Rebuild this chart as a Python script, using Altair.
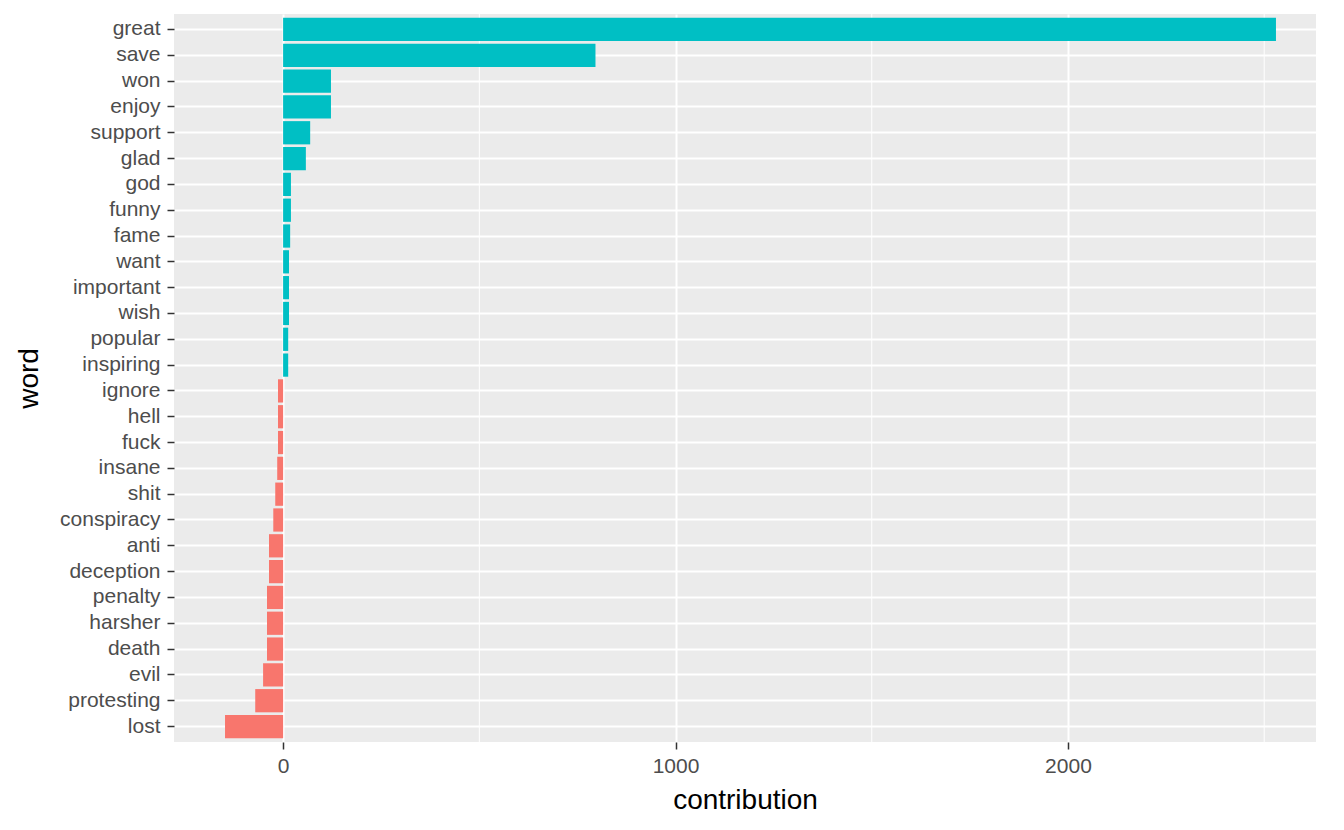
import altair as alt
import pandas as pd

words = ["great", "save", "won", "enjoy", "support", "glad", "god", "funny", "fame",
         "want", "important", "wish", "popular", "inspiring", "ignore", "hell", "fuck",
         "insane", "shit", "conspiracy", "anti", "deception", "penalty", "harsher",
         "death", "evil", "protesting", "lost"]
contribution = [2530, 796, 122, 122, 69, 58, 20, 20, 18,
                15, 15, 15, 13, 13, -13, -13, -13,
                -15, -20, -25, -36, -36, -41, -41,
                -41, -51, -71, -148]
major_breaks = [0, 1000, 2000]
minor_breaks = [500, 1500, 2500]

df = pd.DataFrame({"word": words, "contribution": contribution})
df["sign"] = ["positive" if v > 0 else "negative" for v in contribution]
minor_df = pd.DataFrame({"contribution": minor_breaks})

xscale = alt.Scale(domain=[-278, 2632], nice=False, zero=False)

minor = alt.Chart(minor_df).mark_rule(color="white", strokeWidth=1).encode(
    x=alt.X("contribution:Q", scale=xscale, title="contribution")
)

bars = alt.Chart(df).mark_bar().encode(
    x=alt.X("contribution:Q", scale=xscale, title="contribution",
            axis=alt.Axis(values=major_breaks, format="d", grid=True,
                          labelPadding=6, titlePadding=10)),
    y=alt.Y("word:N", sort=words, title="word",
            scale=alt.Scale(paddingInner=0.1, paddingOuter=0.15),
            axis=alt.Axis(bandPosition=0.5, grid=True, labelPadding=7, titlePadding=16)),
    color=alt.Color("sign:N", scale=alt.Scale(domain=["negative", "positive"],
                                             range=["#F8766D", "#00BFC4"]), legend=None),
)

chart = alt.layer(minor, bars).properties(
    width=1142, height=728,
    autosize=alt.AutoSizeParams(type="none"),
    padding={"left": 166, "top": 6, "right": 20, "bottom": 84},
    background="white",
).configure_view(fill="#EBEBEB", stroke=None).configure_axis(
    domain=False, tickColor="#333333", tickSize=7, tickWidth=1.5,
    labelColor="#4D4D4D", labelFontSize=21, labelFont="Liberation Sans",
    titleFont="Liberation Sans", titleFontSize=28, titleColor="black", titleFontWeight="normal",
    gridColor="white", gridWidth=2,
)

chart.save("out.html", embed_options={"renderer": "svg", "actions": False})
